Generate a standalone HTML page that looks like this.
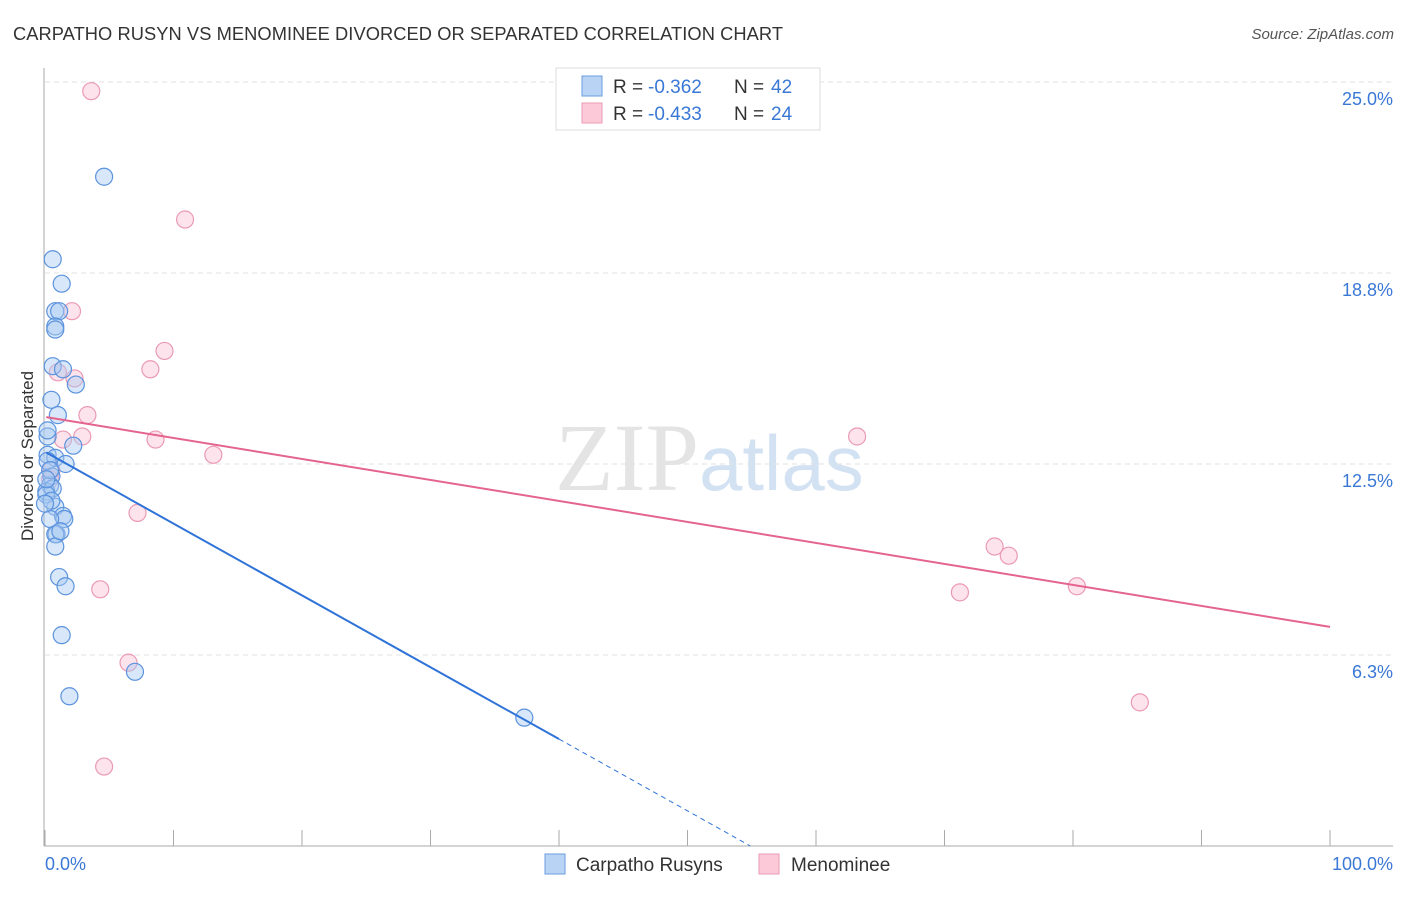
<!DOCTYPE html>
<html><head><meta charset="utf-8"><style>
body{margin:0;background:#fff;font-family:"Liberation Sans",sans-serif;}
</style></head><body>
<svg id="chart" width="1406" height="892" xmlns="http://www.w3.org/2000/svg" font-family="Liberation Sans, sans-serif">
<text x="13" y="40" font-size="18.3" fill="#333" textLength="770">CARPATHO RUSYN VS MENOMINEE DIVORCED OR SEPARATED CORRELATION CHART</text>
<text x="1394" y="39" font-size="15" fill="#555" text-anchor="end" font-style="italic">Source: ZipAtlas.com</text>
<text x="555" y="490" font-size="96" fill="#e4e4e4"><tspan font-family="Liberation Serif, serif">ZIP</tspan><tspan fill="#d3e2f3" font-size="78">atlas</tspan></text>
<g id="grid"></g><g id="axes"></g><g id="marks"></g>
<text transform="translate(33,456) rotate(-90)" font-size="17" fill="#333" text-anchor="middle">Divorced or Separated</text>
<g>
<rect x="556" y="68" width="264" height="62" fill="#fff" stroke="#ddd"/>
<rect x="582" y="76" width="20" height="20" fill="#b9d3f5" stroke="#6a9ee0"/>
<rect x="582" y="103" width="20" height="20" fill="#fbc9d8" stroke="#eb9ab3"/>
<text x="613" y="93" font-size="19" fill="#333">R =</text>
<text x="648" y="93" font-size="19" fill="#3a78d6">-0.362</text>
<text x="734" y="93" font-size="19" fill="#333">N =</text>
<text x="771" y="93" font-size="19" fill="#3a78d6">42</text>
<text x="613" y="120" font-size="19" fill="#333">R =</text>
<text x="648" y="120" font-size="19" fill="#3a78d6">-0.433</text>
<text x="734" y="120" font-size="19" fill="#333">N =</text>
<text x="771" y="120" font-size="19" fill="#3a78d6">24</text>
</g>
<g>
<rect x="545" y="854" width="20" height="20" fill="#b9d3f5" stroke="#6a9ee0"/>
<text x="576" y="871" font-size="19" fill="#333">Carpatho Rusyns</text>
<rect x="759" y="854" width="20" height="20" fill="#fbc9d8" stroke="#eb9ab3"/>
<text x="791" y="871" font-size="19" fill="#333">Menominee</text>
</g>
</svg>
<script>
const yTicks=[6.25,12.5,18.75,25];
const yTickLabels=["6.3%","12.5%","18.8%","25.0%"];
const xTickLabels=["0.0%","100.0%"];
const blueX=[4.6,0.6,1.3,0.8,1.1,0.8,0.8,0.6,1.4,2.4,0.5,1.0,0.2,2.2,0.2,0.8,1.6,0.5,0.4,0.1,0.6,0.8,1.4,1.5,0.4,0.9,0.8,0.8,1.1,1.6,1.3,1.9,7.0,37.3,0.2,0.4,0.1,0.5,0.1,0.2,1.2,0.0];
const blueY=[21.9,19.2,18.4,17.5,17.5,17.0,16.9,15.7,15.6,15.1,14.6,14.1,13.4,13.1,12.8,12.7,12.5,12.1,11.8,11.6,11.7,11.1,10.8,10.7,10.7,10.2,10.2,9.8,8.8,8.5,6.9,4.9,5.7,4.2,12.6,12.3,11.5,11.3,12.0,13.6,10.3,11.2];
const pinkX=[3.6,10.9,2.1,9.3,8.2,1.0,2.3,3.3,2.9,8.6,1.4,13.1,0.4,7.2,4.3,6.5,4.6,63.2,73.9,75.0,71.2,80.3,85.2,0.5];
const pinkY=[24.7,20.5,17.5,16.2,15.6,15.5,15.3,14.1,13.4,13.3,13.3,12.8,12.0,10.9,8.4,6.0,2.6,13.4,9.8,9.5,8.3,8.5,4.7,12.3];
const blueFit=[12.9,-0.235];
const pinkFit=[14.04,-0.0687];
const NS="http://www.w3.org/2000/svg";
const X=v=>45+v*12.85, Y=v=>846-v*30.56;
function mk(p,t,a){const e=document.createElementNS(NS,t);for(const k in a)e.setAttribute(k,a[k]);p.appendChild(e);return e;}
const grid=document.getElementById('grid'),axes=document.getElementById('axes'),marks=document.getElementById('marks');
yTicks.forEach((t,i)=>{
 const l=mk(grid,'line',{x1:45,x2:1393,y1:Y(t),y2:Y(t),stroke:'#e2e2e2','stroke-dasharray':'5,4'});
 
 
 const tx=mk(axes,'text',{x:1393,y:Y(t)+23,'font-size':18,fill:'#3a78d6','text-anchor':'end'});
 tx.textContent=yTickLabels[i];
 
 
});
const ax=mk(axes,'line',{x1:44,x2:44,y1:68,y2:846,stroke:'#aaa'});


const bx=mk(axes,'line',{x1:44,x2:1393,y1:846,y2:846,stroke:'#aaa'});


for(let i=0;i<=10;i++){
 const t=mk(axes,'line',{x1:X(i*10),x2:X(i*10),y1:830,y2:846,stroke:'#aaa'});
 
 
}
[[0,'start',45],[100,'end',1393]].forEach((d,i)=>{
 const tx=mk(axes,'text',{x:d[2],y:870,'font-size':18,fill:'#3a78d6','text-anchor':d[1]});
 tx.textContent=xTickLabels[i];
 
 
});
function pts(xs,ys,fill,stroke,name){xs.forEach((x,i)=>{
 const c=mk(marks,'circle',{cx:X(x),cy:Y(ys[i]),r:8.5,fill:fill,'fill-opacity':0.45,stroke:stroke,'stroke-width':1.2});
 
 
});}
pts(pinkX,pinkY,'#fbc3d4','#eb9ab3','menominee-point');
pts(blueX,blueY,'#a9c9f2','#5b93dd','carpatho-rusyn-point');
const f=(fit,x)=>fit[0]+fit[1]*x;
const bl=mk(marks,'line',{x1:X(0.1),y1:Y(f(blueFit,0.1)),x2:X(40),y2:Y(f(blueFit,40)),stroke:'#2f73d8','stroke-width':2});


const xEnd=-blueFit[0]/blueFit[1];
const bd=mk(marks,'line',{x1:X(40),y1:Y(f(blueFit,40)),x2:X(xEnd),y2:Y(0),stroke:'#2f73d8','stroke-width':1,'stroke-dasharray':'5,4'});


const pl=mk(marks,'line',{x1:X(0.1),y1:Y(f(pinkFit,0.1)),x2:X(100),y2:Y(f(pinkFit,100)),stroke:'#e4648e','stroke-width':2});


</script>
</body></html>
